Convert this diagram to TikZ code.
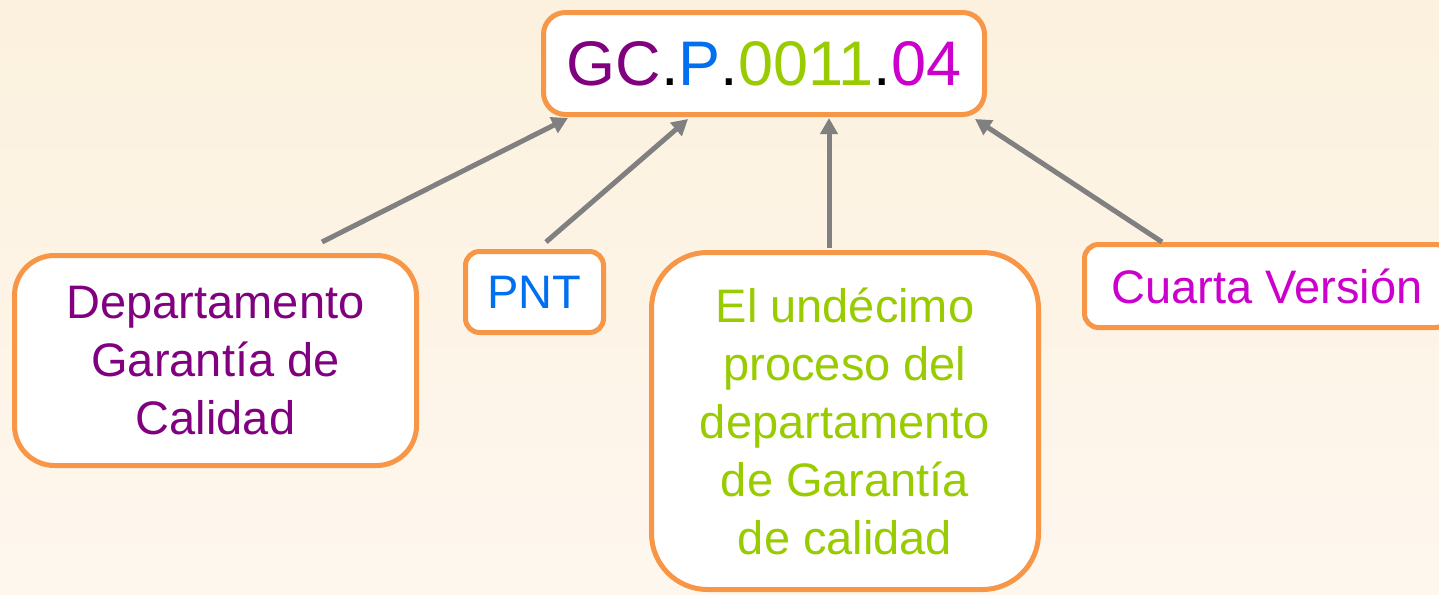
\documentclass[tikz,border=0pt]{standalone}
\usepackage{fontspec}
\setmainfont{Liberation Sans}
\usetikzlibrary{arrows.meta}
\definecolor{bgtop}{HTML}{FCF1DE}
\definecolor{bgbot}{HTML}{FEF7EE}
\definecolor{obord}{HTML}{F79646}
\definecolor{agray}{HTML}{808080}
\definecolor{cpurple}{HTML}{800080}
\definecolor{cblue}{HTML}{0070F0}
\definecolor{cgreen}{HTML}{99CC00}
\definecolor{cmag}{HTML}{CC00CC}
\begin{document}
\begin{tikzpicture}[x=0.5pt,y=-0.5pt,
  box/.style={draw=obord, line width=2.5pt, fill=white, inner sep=0pt, align=center,
    font=\fontsize{23.5}{29}\selectfont},
  arr/.style={draw=agray, line width=2.5pt, -{Triangle[length=8pt,width=8.5pt]}}]
\clip (0,0) rectangle (1439,594);
\shade[top color=bgtop,bottom color=bgbot] (0,0) rectangle (1439,594);
\node[box, rounded corners=11pt, minimum width=220.5pt, minimum height=51pt,
  font=\fontsize{31.5}{38}\selectfont] (code) at (764,63.5)
  {\textcolor{cpurple}{GC}.\textcolor{cblue}{P}.\textcolor{cgreen}{0011}.\textcolor{cmag}{04}};
\node[box, rounded corners=20pt, minimum width=201pt, minimum height=105pt, text=cpurple]
  (dep) at (215.5,360.5) {Departamento\\Garantía de\\Calidad};
\node[box, rounded corners=7pt, minimum width=69pt, minimum height=40.5pt, text=cblue]
  (pnt) at (534.5,292) {PNT};
\node[box, rounded corners=28pt, minimum width=193.5pt, minimum height=168.5pt, text=cgreen]
  (mid) at (845,421) {El undécimo\\proceso del\\departamento\\de Garantía\\de calidad};
\node[box, rounded corners=7pt, minimum width=182.5pt, minimum height=41.5pt, text=cmag]
  (ver) at (1267,286) {Cuarta Versión};
\draw[arr] ([xshift=53.25pt,yshift=5.5pt]dep.north) -- ([xshift=-98pt,yshift=-0.5pt]code.south);
\draw[arr] ([xshift=5.75pt,yshift=3.5pt]pnt.north) -- ([xshift=-38pt,yshift=-1pt]code.south);
\draw[arr] ([xshift=-8pt,yshift=1pt]mid.north) -- ([xshift=32.5pt,yshift=-0.5pt]code.south);
\draw[arr] ([xshift=-52.5pt]ver.north) -- ([xshift=105.5pt,yshift=-1pt]code.south);
\end{tikzpicture}
\end{document}
